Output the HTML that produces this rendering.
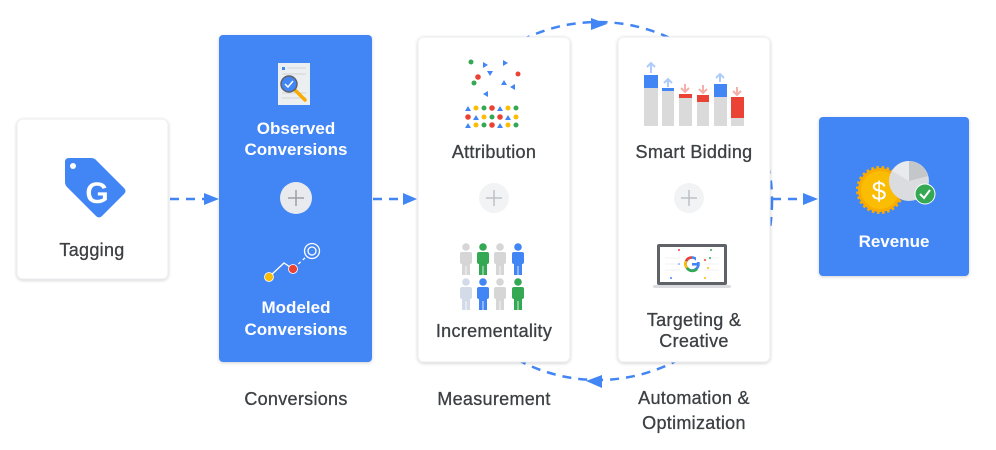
<!DOCTYPE html>
<html><head><meta charset="utf-8">
<style>
html,body{margin:0;padding:0;background:#fff;}
svg{display:block;}
text{font-family:"Liberation Sans",sans-serif;}
.lbl{font-size:18px;fill:#3c4043;letter-spacing:0.3px;stroke:#3c4043;stroke-width:0.3px;}
.wl{font-size:17px;fill:#fff;font-weight:bold;}
</style></head>
<body>
<svg width="996" height="450" viewBox="0 0 996 450" xmlns="http://www.w3.org/2000/svg">
<defs>
<filter id="sh" x="-10%" y="-10%" width="120%" height="120%">
<feDropShadow dx="0" dy="1" stdDeviation="1.6" flood-color="#000" flood-opacity="0.18"/>
</filter>
</defs>

<!-- loop ellipse -->
<ellipse cx="598" cy="201" rx="174" ry="179" fill="none" stroke="#4285f4" stroke-width="2.5" stroke-dasharray="9 7"/>
<polygon points="591,18 607,24 591,30" fill="#4285f4"/>
<polygon points="586,381 602,375 602,388" fill="#4285f4"/>

<!-- straight arrows -->
<line x1="170" y1="199" x2="205" y2="199" stroke="#4285f4" stroke-width="2.5" stroke-dasharray="9 7"/>
<polygon points="204,193 219,199 204,205" fill="#4285f4"/>
<line x1="373" y1="199" x2="404" y2="199" stroke="#4285f4" stroke-width="2.5" stroke-dasharray="9 7"/>
<polygon points="403,193 417,199 403,205" fill="#4285f4"/>
<line x1="772" y1="199" x2="804" y2="199" stroke="#4285f4" stroke-width="2.5" stroke-dasharray="9 7"/>
<polygon points="803,193 818,199 803,205" fill="#4285f4"/>

<!-- cards -->
<rect x="17" y="119" width="151" height="160" rx="6" fill="#fff" stroke="#eceef0" filter="url(#sh)"/>
<rect x="219" y="35" width="153" height="327" rx="4" fill="#4285f4" filter="url(#sh)"/>
<rect x="418" y="37" width="152" height="325" rx="6" fill="#fff" stroke="#eceef0" filter="url(#sh)"/>
<rect x="618" y="37" width="152" height="325" rx="6" fill="#fff" stroke="#eceef0" filter="url(#sh)"/>
<rect x="819" y="117" width="150" height="159" rx="4" fill="#4285f4" filter="url(#sh)"/>

<!-- Tagging icon -->
<path d="M69,158 L91,158 Q94,158 96,160 L124,188 Q127,191 124,194 L102,216 Q99,219 96,216 L67,187 Q65,185 65,182 L65,162 Q65,158 69,158 Z" fill="#4285f4"/>
<circle cx="73" cy="166" r="3" fill="#fff"/>
<text x="97" y="203" font-size="30" font-weight="bold" fill="#fff" text-anchor="middle">G</text>
<text class="lbl" x="92" y="256" text-anchor="middle">Tagging</text>

<!-- Observed icon -->
<rect x="278" y="63" width="32" height="42" fill="#eceff1"/>
<rect x="282" y="67" width="3" height="3" fill="#4285f4"/>
<line x1="287" y1="68" x2="306" y2="68" stroke="#cfd4d8" stroke-width="1"/>
<line x1="282" y1="74" x2="306" y2="74" stroke="#cfd4d8" stroke-width="1"/>
<line x1="282" y1="93" x2="306" y2="93" stroke="#cfd4d8" stroke-width="1"/>
<line x1="282" y1="98" x2="306" y2="98" stroke="#cfd4d8" stroke-width="1"/>
<line x1="294" y1="89" x2="305" y2="100" stroke="#f9ab00" stroke-width="3.5" stroke-linecap="round"/>
<circle cx="289" cy="84" r="8" fill="#4285f4" stroke="#5f6368" stroke-width="1.5"/>
<path d="M285,84 L288,87 L293,81" stroke="#fff" stroke-width="1.5" fill="none"/>
<text class="wl" x="296" y="134" text-anchor="middle">Observed</text>
<text class="wl" x="296" y="155" text-anchor="middle">Conversions</text>

<!-- plus on blue -->
<circle cx="296" cy="198" r="16" fill="#e8eaed"/>
<path d="M288,198 H304 M296,190 V206" stroke="#9aa0a6" stroke-width="1.5"/>

<!-- Modeled icon -->
<path d="M269,277 L284,263 L293,269" stroke="#fff" stroke-width="1.3" fill="none"/>
<path d="M294,268 L307,256" stroke="#fff" stroke-width="1.3" stroke-dasharray="3 3" fill="none"/>
<circle cx="269" cy="277" r="4.5" fill="#fbbc04" stroke="#fff" stroke-width="0.8"/>
<circle cx="293" cy="269" r="4.5" fill="#ea4335" stroke="#fff" stroke-width="0.8"/>
<circle cx="312" cy="251" r="7.5" fill="none" stroke="#fff" stroke-width="1.3"/>
<circle cx="312" cy="251" r="4" fill="none" stroke="#fff" stroke-width="1.3"/>
<text class="wl" x="296" y="313" text-anchor="middle">Modeled</text>
<text class="wl" x="296" y="335" text-anchor="middle">Conversions</text>

<!-- Attribution icon -->
<g>
<circle cx="471" cy="62" r="2.5" fill="#34a853"/>
<polygon points="483,62 488,65 483,68" fill="#4285f4"/>
<polygon points="503,60 508,63 503,66" fill="#4285f4"/>
<polygon points="487,71 493,71 490,76" fill="#4285f4"/>
<circle cx="478" cy="77" r="2.8" fill="#ea4335"/>
<circle cx="474" cy="83" r="2.5" fill="#34a853"/>
<circle cx="518" cy="74" r="2.5" fill="#ea4335"/>
<polygon points="504,80 507,85 501,85" fill="#4285f4"/>
<polygon points="510,87 515,84 515,90" fill="#4285f4"/>
<polygon points="483,94 488,91 488,97" fill="#4285f4"/>
</g>
<g>
<polygon points="468,106 471,111 465,111" fill="#4285f4"/>
<circle cx="476" cy="108" r="2.5" fill="#fbbc04"/>
<circle cx="484" cy="108" r="2.5" fill="#34a853"/>
<circle cx="492" cy="108" r="2.8" fill="#ea4335"/>
<polygon points="500,106 503,111 497,111" fill="#4285f4"/>
<circle cx="508" cy="108" r="2.5" fill="#fbbc04"/>
<circle cx="516" cy="108" r="2.5" fill="#34a853"/>
<circle cx="468" cy="117" r="2.8" fill="#ea4335"/>
<polygon points="476,115 479,120 473,120" fill="#4285f4"/>
<circle cx="484" cy="117" r="2.5" fill="#fbbc04"/>
<circle cx="492" cy="117" r="2.5" fill="#34a853"/>
<circle cx="500" cy="117" r="2.8" fill="#ea4335"/>
<polygon points="508,115 511,120 505,120" fill="#4285f4"/>
<circle cx="516" cy="117" r="2.5" fill="#fbbc04"/>
<polygon points="468,123 471,128 465,128" fill="#4285f4"/>
<circle cx="476" cy="125" r="2.5" fill="#fbbc04"/>
<circle cx="484" cy="125" r="2.5" fill="#34a853"/>
<circle cx="492" cy="125" r="2.8" fill="#ea4335"/>
<polygon points="500,123 503,128 497,128" fill="#4285f4"/>
<circle cx="508" cy="125" r="2.5" fill="#fbbc04"/>
<circle cx="516" cy="125" r="2.5" fill="#34a853"/>
</g>
<text class="lbl" x="494" y="158" text-anchor="middle">Attribution</text>

<!-- plus in white cards -->
<circle cx="494" cy="198" r="15" fill="#f1f3f4"/>
<path d="M486,198 H502 M494,190 V206" stroke="#bdc1c6" stroke-width="1.5"/>
<circle cx="689" cy="198" r="15" fill="#f1f3f4"/>
<path d="M681,198 H697 M689,190 V206" stroke="#bdc1c6" stroke-width="1.5"/>

<!-- People -->
<g>
<g fill="#d6d6d6"><circle cx="466" cy="247" r="3.8"/><rect x="460" y="252" width="12" height="12" rx="2"/><rect x="462" y="262" width="8" height="13"/></g>
<g fill="#34a853"><circle cx="483" cy="247" r="3.8"/><rect x="477" y="252" width="12" height="12" rx="2"/><rect x="479" y="262" width="8" height="13"/></g>
<g fill="#d6d6d6"><circle cx="500" cy="247" r="3.8"/><rect x="494" y="252" width="12" height="12" rx="2"/><rect x="496" y="262" width="8" height="13"/></g>
<g fill="#4285f4"><circle cx="518" cy="247" r="3.8"/><rect x="512" y="252" width="12" height="12" rx="2"/><rect x="514" y="262" width="8" height="13"/></g>
<g fill="#d3dbe8"><circle cx="466" cy="282" r="3.8"/><rect x="460" y="287" width="12" height="12" rx="2"/><rect x="462" y="297" width="8" height="13"/></g>
<g fill="#4285f4"><circle cx="483" cy="282" r="3.8"/><rect x="477" y="287" width="12" height="12" rx="2"/><rect x="479" y="297" width="8" height="13"/></g>
<g fill="#d6d6d6"><circle cx="500" cy="282" r="3.8"/><rect x="494" y="287" width="12" height="12" rx="2"/><rect x="496" y="297" width="8" height="13"/></g>
<g fill="#34a853"><circle cx="518" cy="282" r="3.8"/><rect x="512" y="287" width="12" height="12" rx="2"/><rect x="514" y="297" width="8" height="13"/></g>
<g stroke="#fff" stroke-width="0.8"><line x1="466" y1="266" x2="466" y2="275"/><line x1="483" y1="266" x2="483" y2="275"/><line x1="500" y1="266" x2="500" y2="275"/><line x1="518" y1="266" x2="518" y2="275"/><line x1="466" y1="301" x2="466" y2="310"/><line x1="483" y1="301" x2="483" y2="310"/><line x1="500" y1="301" x2="500" y2="310"/><line x1="518" y1="301" x2="518" y2="310"/></g>
</g>
<text class="lbl" x="494" y="337" text-anchor="middle">Incrementality</text>

<!-- Smart bidding icon -->
<g>
<rect x="644" y="88" width="14" height="38" fill="#dadada"/>
<rect x="644" y="75" width="14" height="13" fill="#4285f4"/>
<rect x="662" y="91" width="12" height="35" fill="#dadada"/>
<rect x="662" y="88" width="12" height="3" fill="#4285f4"/>
<rect x="679" y="98" width="13" height="28" fill="#dadada"/>
<rect x="679" y="94" width="13" height="4" fill="#ea4335"/>
<rect x="697" y="102" width="12" height="24" fill="#dadada"/>
<rect x="697" y="95" width="12" height="7" fill="#ea4335"/>
<rect x="714" y="97" width="13" height="29" fill="#dadada"/>
<rect x="714" y="84" width="13" height="13" fill="#4285f4"/>
<rect x="731" y="118" width="13" height="8" fill="#dadada"/>
<rect x="731" y="97" width="13" height="21" fill="#ea4335"/>
<g stroke-width="2" fill="none">
<path d="M651,73 V63 M647,67 L651,63 L655,67" stroke="#aecbfa"/>
<path d="M668,87 V79 M664,83 L668,79 L672,83" stroke="#aecbfa"/>
<path d="M720,82 V74 M716,78 L720,74 L724,78" stroke="#aecbfa"/>
<path d="M685,84 V92 M681,88 L685,92 L689,88" stroke="#f6aea9"/>
<path d="M703,85 V93 M699,89 L703,93 L707,89" stroke="#f6aea9"/>
<path d="M737,87 V95 M733,91 L737,95 L741,91" stroke="#f6aea9"/>
</g>
</g>
<text class="lbl" x="694" y="158" text-anchor="middle">Smart Bidding</text>

<!-- Laptop -->
<rect x="657" y="244" width="70" height="41" rx="2" fill="#5f6368"/>
<rect x="660" y="247" width="64" height="35" fill="#fff"/>
<rect x="653" y="285" width="78" height="3" rx="1.5" fill="#dadce0"/>
<g stroke="#eeeeee" stroke-width="0.7" fill="none">
<path d="M665,258 H680 M665,264 H680 M665,270 H680 M704,258 H719 M704,264 H719 M704,270 H719"/>
</g>
<circle cx="692" cy="264" r="6.5" fill="none" stroke="#4285f4" stroke-width="2.6"/>
<path d="M692,257.5 A6.5,6.5 0 0 0 686,261" stroke="#ea4335" stroke-width="2.6" fill="none"/>
<path d="M686,261 A6.5,6.5 0 0 0 687,268" stroke="#fbbc04" stroke-width="2.6" fill="none"/>
<path d="M687,268 A6.5,6.5 0 0 0 697,269" stroke="#34a853" stroke-width="2.6" fill="none"/>
<rect x="692" y="263" width="6.5" height="2.6" fill="#4285f4"/>
<rect x="696" y="257" width="4" height="5" fill="#fff"/>
<circle cx="679" cy="250" r="1" fill="#ea4335"/>
<circle cx="711" cy="250" r="1" fill="#34a853"/>
<circle cx="705" cy="260" r="1" fill="#ea4335"/>
<circle cx="710" cy="258" r="1" fill="#34a853"/>
<circle cx="708" cy="268" r="1" fill="#fbbc04"/>
<circle cx="705" cy="278" r="1" fill="#fbbc04"/>
<circle cx="671" cy="278" r="1" fill="#4285f4"/>
<circle cx="679" cy="264" r="0.8" fill="#4285f4"/>
<text class="lbl" x="694" y="326" text-anchor="middle">Targeting &amp;</text>
<text class="lbl" x="694" y="347" text-anchor="middle">Creative</text>

<!-- Revenue icon -->
<g>
<circle cx="880" cy="190" r="22" fill="#f9ab00" stroke="#f9ab00" stroke-width="4" stroke-dasharray="2.5 2.5"/>
<circle cx="880" cy="190" r="19" fill="#fbbc04"/>
<circle cx="909" cy="181" r="20" fill="#dadce0"/>
<path d="M909,181 L909,161 A20,20 0 0 0 892,171 Z" fill="#e8eaed"/>
<path d="M909,181 L909,161 A20,20 0 0 1 928,176 Z" fill="#c4c7c9"/>
<circle cx="925" cy="194" r="10" fill="#34a853" stroke="#fff" stroke-width="1"/>
<path d="M920,194 L924,198 L930,190" stroke="#fff" stroke-width="2" fill="none"/>
<text x="879" y="200" font-size="26" fill="#fff" text-anchor="middle">$</text>
</g>
<text class="wl" x="894" y="247" text-anchor="middle">Revenue</text>

<!-- bottom labels -->
<text class="lbl" x="296" y="405" text-anchor="middle">Conversions</text>
<text class="lbl" x="494" y="405" text-anchor="middle">Measurement</text>
<text class="lbl" x="694" y="404" text-anchor="middle">Automation &amp;</text>
<text class="lbl" x="694" y="429" text-anchor="middle">Optimization</text>
</svg>
</body></html>
